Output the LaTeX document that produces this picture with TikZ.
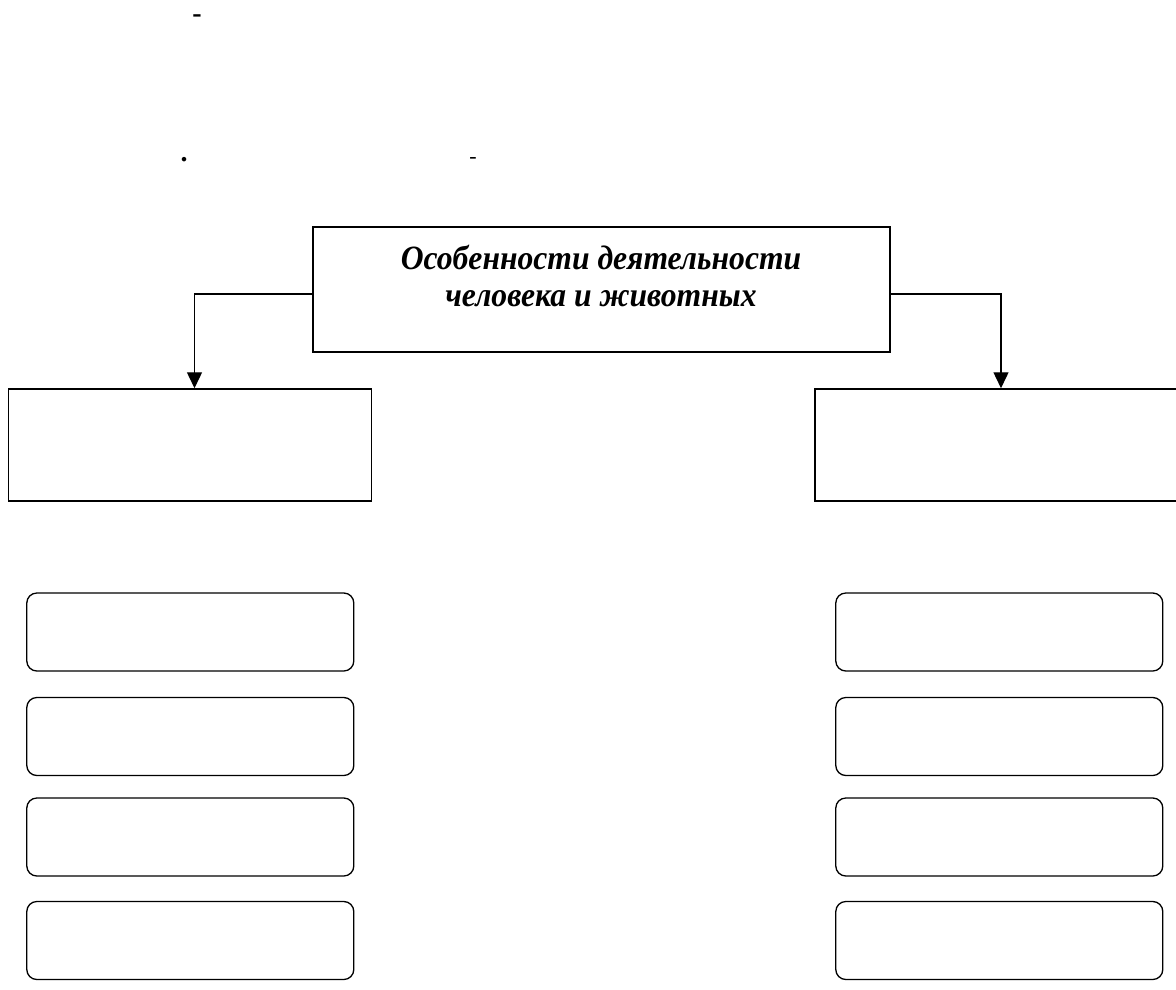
\documentclass[tikz,border=0pt]{standalone}
\usepackage{fontspec}
\setmainfont{Liberation Serif}
\newfontfamily\ttlfont[FakeStretch=0.93]{Liberation Serif}
\usetikzlibrary{shapes, arrows.meta}

\begin{document}
\begin{tikzpicture}[x=1pt, y=-1pt,
	box/.style={draw, rectangle, line width=1.5pt, inner sep=0pt},
	slot/.style={draw, rectangle, rounded corners=10pt, line width=1.3pt,
		minimum width=327pt, minimum height=78pt, inner sep=0pt},
	arr/.style={line width=1.4pt, -{Triangle[length=16pt, width=15pt]}}]
	\useasboundingbox (0, 0) rectangle (1176, 989);
	% stray marks at the top of the page
	\node (m1) at (197, 19)		[font=\fontsize{28}{30}\selectfont\bfseries] {-};
	\node (m2) at (184, 160)	[font=\fontsize{28}{30}\selectfont\bfseries] {.};
	\node (m3) at (473, 160)	[font=\fontsize{22}{24}\selectfont] {-};
	% title box and the two boxes below it
	\node (top) at (601.5, 289.5)	[box, minimum width=577pt, minimum height=125pt] {};
	\node (ttl) at (601, 276)	[align=center, font=\ttlfont\fontsize{34}{37}\selectfont\bfseries\itshape]
		{Особенности деятельности\\человека и животных};
	\node (lbox) at (190, 445)	[box, minimum width=363pt, minimum height=112pt] {};
	\node (rbox) at (996.5, 445)	[box, minimum width=363pt, minimum height=112pt] {};
	\draw[arr] ([yshift=-4.5pt]top.west) -| ([xshift=4.5pt]lbox.north);
	\draw[arr] ([yshift=-4.5pt]top.east) -| ([xshift=4.5pt]rbox.north);
	% empty rounded slots
	\foreach \i/\y in {1/632, 2/736.5, 3/837, 4/940.5} {
		\node (l\i) at (190.3, \y)	[slot] {};
		\node (r\i) at (999.3, \y)	[slot] {};
	}
\end{tikzpicture}
\end{document}
